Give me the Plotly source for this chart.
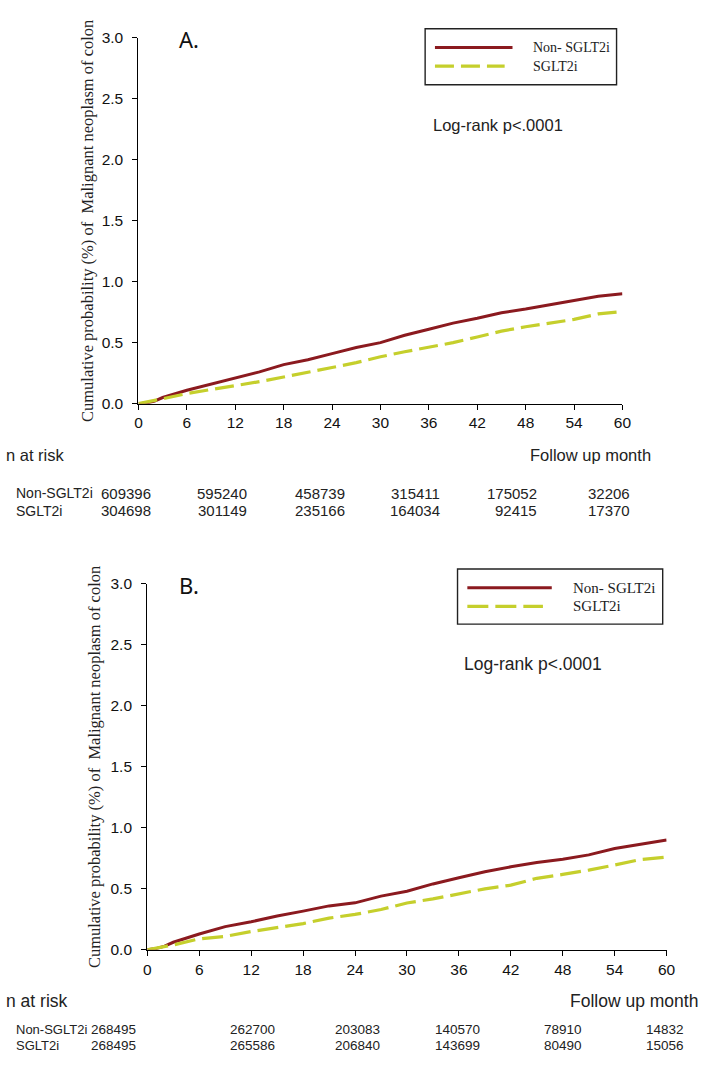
import plotly.graph_objects as go

# ---------------- data ----------------
months = [0, 1, 2, 3, 6, 9, 12, 15, 18, 21, 24, 27, 30, 33, 36, 39, 42, 45, 48, 51, 54, 57, 60]

a_non_sglt2i = [0, 0.005, 0.02, 0.05, 0.11, 0.16, 0.21, 0.26, 0.32, 0.36, 0.41, 0.46, 0.50,
                0.56, 0.61, 0.66, 0.70, 0.745, 0.775, 0.81, 0.84, 0.88, 0.90]
a_sglt2i = [0, 0.012, 0.025, 0.04, 0.083, 0.115, 0.148, 0.18, 0.218, 0.255, 0.296, 0.336, 0.384,
            0.425, 0.46, 0.50, 0.546, 0.594, 0.63, 0.66, 0.69, 0.735, 0.755]

b_non_sglt2i = [0, 0.01, 0.03, 0.062, 0.13, 0.19, 0.23, 0.277, 0.317, 0.36, 0.385, 0.44, 0.48,
                0.54, 0.59, 0.64, 0.68, 0.715, 0.742, 0.778, 0.83, 0.865, 0.90]
b_sglt2i = [0, 0.012, 0.025, 0.04, 0.09, 0.11, 0.15, 0.183, 0.215, 0.26, 0.29, 0.33, 0.384,
            0.417, 0.457, 0.50, 0.53, 0.586, 0.618, 0.653, 0.695, 0.74, 0.76]

risk_times = [0, 12, 24, 36, 48, 60]
a_risk_non = [609396, 595240, 458739, 315411, 175052, 32206]
a_risk_sglt = [304698, 301149, 235166, 164034, 92415, 17370]
b_risk_non = [268495, 262700, 203083, 140570, 78910, 14832]
b_risk_sglt = [268495, 265586, 206840, 143699, 80490, 15056]

series_names = ["Non- SGLT2i", "SGLT2i"]
row_labels = ["Non-SGLT2i", "SGLT2i"]
panel_labels = ["A.", "B."]
y_title = "Cumulative probability (%) of  Malignant neoplasm of colon"
x_title = "Follow up month"
risk_title = "n at risk"
logrank_text = "Log-rank p<.0001"

# ---------------- layout constants ----------------
W, H = 709, 1071
RED = "#8B1A1F"
YEL = "#C5CF2C"
SANS = "Liberation Sans, Arial, sans-serif"
SERIF = "Liberation Serif, Times New Roman, serif"
LABEL_FONT = "Noto Sans, Open Sans, sans-serif"


def px(x):
    return x / W


def py(y):
    return 1 - y / H


panels = [
    dict(x0=137, x1=630, ytop=29, ybot=401, data=(a_non_sglt2i, a_sglt2i),
         risk=(a_risk_non, a_risk_sglt), label_xy=(176, 30), title_x=85,
         legend_box=(429, 20, 624, 77), leg_line=(439, 518, 510), leg_y=(39, 58), leg_text_x=537,
         leg_fs=14, dash="19px,7px", logrank=(435, 118), lr_fs=16.5,
         risk_head_y=453, follow_right=661, risk_rows=(492, 510), risk_fs=15, row_fs=14,
         risk_cols=[152, 250, 349, 446, 545, 640], head_fs=16.5, tick_fs=15.5),
    dict(x0=146, x1=675, ytop=584, ybot=956, data=(b_non_sglt2i, b_sglt2i),
         risk=(b_risk_non, b_risk_sglt), label_xy=(176, 585), title_x=92,
         legend_box=(462, 569, 671, 625), leg_line=(472, 558, 549), leg_y=(588, 607), leg_text_x=578,
         leg_fs=15, dash="21px,7px", logrank=(467, 666), lr_fs=17.5,
         risk_head_y=1008, follow_right=709, risk_rows=(1037, 1053), risk_fs=13.5, row_fs=13,
         risk_cols=[137, 278, 385, 487, 591, 695], head_fs=17.5, tick_fs=15.5),
]

fig = go.Figure()
shapes = []
annotations = []

for i, p in enumerate(panels):
    xa = "x" if i == 0 else "x2"
    ya = "y" if i == 0 else "y2"
    non, sg = p["data"]
    fig.add_trace(go.Scatter(x=months, y=non, mode="lines", name=series_names[0],
                             line=dict(color=RED, width=3), xaxis=xa, yaxis=ya,
                             showlegend=False, cliponaxis=False))
    fig.add_trace(go.Scatter(x=months, y=sg, mode="lines", name=series_names[1],
                             line=dict(color=YEL, width=3.2, dash=p["dash"]), xaxis=xa, yaxis=ya,
                             showlegend=False, cliponaxis=False))

    axis_common = dict(showline=True, linecolor="black", linewidth=1.4, ticks="outside",
                       ticklen=5, tickwidth=1.4, tickcolor="black", showgrid=False,
                       zeroline=False, tickfont=dict(family=SANS, size=p["tick_fs"], color="#111"))
    xkey = "xaxis" if i == 0 else "xaxis2"
    ykey = "yaxis" if i == 0 else "yaxis2"
    fig.update_layout(**{
        xkey: dict(domain=[px(p["x0"]), px(p["x1"])], range=[0, 60], tickmode="array",
                   tickvals=list(range(0, 61, 6)), anchor=ya, **axis_common),
        ykey: dict(domain=[py(p["ybot"]), py(p["ytop"])], range=[0, 3], tickmode="array",
                   tickvals=[0, 0.5, 1.0, 1.5, 2.0, 2.5, 3.0], tickformat=".1f",
                   ticklabelstandoff=6, anchor=xa, **axis_common),
    })

    # y-axis title
    annotations.append(dict(text=y_title, x=px(p["title_x"]), y=py((p["ytop"] + p["ybot"]) / 2),
                            xref="paper", yref="paper", textangle=-90, showarrow=False,
                            xanchor="center", yanchor="middle",
                            font=dict(family=SERIF, size=16.5, color="#222")))
    # panel label
    annotations.append(dict(text=panel_labels[i], x=px(p["label_xy"][0]), y=py(p["label_xy"][1]),
                            xref="paper", yref="paper", showarrow=False, xanchor="left",
                            yanchor="middle", font=dict(family=LABEL_FONT, size=22, color="#111")))
    # legend box
    bx0, by0, bx1, by1 = p["legend_box"]
    shapes.append(dict(type="rect", xref="paper", yref="paper", x0=px(bx0), x1=px(bx1),
                       y0=py(by1), y1=py(by0), line=dict(color="#222", width=1.4),
                       fillcolor="rgba(0,0,0,0)"))
    lx0, lx1, lx1d = p["leg_line"]
    ly1, ly2 = p["leg_y"]
    shapes.append(dict(type="line", xref="paper", yref="paper", x0=px(lx0), x1=px(lx1),
                       y0=py(ly1), y1=py(ly1), line=dict(color=RED, width=3)))
    shapes.append(dict(type="line", xref="paper", yref="paper", x0=px(lx0), x1=px(lx1d),
                       y0=py(ly2), y1=py(ly2), line=dict(color=YEL, width=3.2, dash=p["dash"])))
    for name, ly in zip(series_names, (ly1, ly2)):
        annotations.append(dict(text=name, x=px(p["leg_text_x"]), y=py(ly), xref="paper",
                                yref="paper", showarrow=False, xanchor="left", yanchor="middle",
                                font=dict(family=SERIF, size=p["leg_fs"], color="#222")))
    # log-rank
    annotations.append(dict(text=logrank_text, x=px(p["logrank"][0]), y=py(p["logrank"][1]),
                            xref="paper", yref="paper", showarrow=False, xanchor="left",
                            yanchor="middle", font=dict(family=SANS, size=p["lr_fs"], color="#222")))
    # risk table header
    annotations.append(dict(text=risk_title, x=0, y=py(p["risk_head_y"]), xref="paper",
                            yref="paper", showarrow=False, xanchor="left", yanchor="middle",
                            font=dict(family=SANS, size=p["head_fs"], color="#222")))
    annotations.append(dict(text=x_title, x=px(p["follow_right"]), y=py(p["risk_head_y"]),
                            xref="paper", yref="paper", showarrow=False, xanchor="right",
                            yanchor="middle", font=dict(family=SANS, size=p["head_fs"], color="#222")))
    for row_label, vals, ry in zip(row_labels, p["risk"], p["risk_rows"]):
        annotations.append(dict(text=row_label, x=px(10), y=py(ry), xref="paper", yref="paper",
                                showarrow=False, xanchor="left", yanchor="middle",
                                font=dict(family=SANS, size=p["row_fs"], color="#222")))
        for t, v, cx in zip(risk_times, vals, p["risk_cols"]):
            annotations.append(dict(text=str(v), x=px(cx), y=py(ry), xref="paper", yref="paper",
                                    showarrow=False, xanchor="right", yanchor="middle",
                                    font=dict(family=SANS, size=p["risk_fs"], color="#222")))

fig.update_layout(width=W, height=H, margin=dict(l=0, r=0, t=0, b=0),
                  paper_bgcolor="white", plot_bgcolor="white", showlegend=False,
                  shapes=shapes, annotations=annotations)

fig.write_html("out.html")
